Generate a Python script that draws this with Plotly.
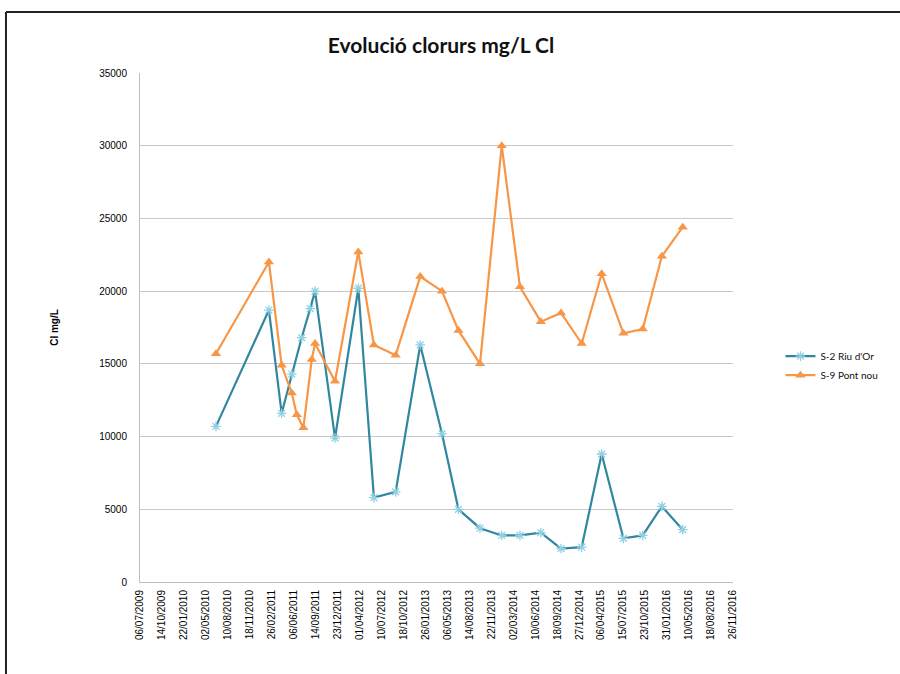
import datetime as dt
import plotly.graph_objects as go

# Sampling dates and chloride concentrations (mg/L Cl)
riu_dates = [
    "2010-06-17", "2011-02-13", "2011-04-12", "2011-05-28", "2011-07-12",
    "2011-08-20", "2011-09-11", "2011-12-11", "2012-03-26", "2012-06-05",
    "2012-09-12", "2013-01-02", "2013-04-11", "2013-06-25", "2013-10-01",
    "2014-01-08", "2014-04-01", "2014-07-05", "2014-10-05", "2015-01-07",
    "2015-04-08", "2015-07-16", "2015-10-12", "2016-01-07", "2016-04-11",
]
riu_values = [
    10700, 18700, 11600, 14300, 16800,
    18800, 20000, 9900, 20200, 5800,
    6200, 16300, 10200, 5000, 3700,
    3200, 3200, 3400, 2300, 2400,
    8800, 3000, 3200, 5200, 3600,
]

pont_dates = [
    "2010-06-17", "2011-02-13", "2011-04-12", "2011-05-28", "2011-06-20",
    "2011-07-20", "2011-08-27", "2011-09-11", "2011-12-11", "2012-03-26",
    "2012-06-05", "2012-09-12", "2013-01-02", "2013-04-11", "2013-06-25",
    "2013-10-01", "2014-01-08", "2014-04-01", "2014-07-05", "2014-10-05",
    "2015-01-07", "2015-04-08", "2015-07-16", "2015-10-12", "2016-01-07",
    "2016-04-11",
]
pont_values = [
    15700, 22000, 14900, 13000, 11500,
    10600, 15300, 16400, 13800, 22700,
    16300, 15600, 21000, 20000, 17300,
    15000, 30000, 20300, 17900, 18500,
    16400, 21200, 17100, 17400, 22400,
    24400,
]

series_names = ["S-2 Riu d'Or", "S-9 Pont nou"]

# Date axis: one tick every 100 days
axis_start = dt.date(2009, 7, 6)
axis_end = dt.date(2016, 11, 26)
tick_dates = []
d = axis_start
while d <= axis_end:
    tick_dates.append(d)
    d += dt.timedelta(days=100)
tick_vals = [t.isoformat() for t in tick_dates]
tick_text = [t.strftime("%d/%m/%Y") for t in tick_dates]

fig = go.Figure()
fig.add_trace(go.Scatter(
    x=riu_dates, y=riu_values, name=series_names[0], mode="lines+markers",
    line=dict(color="#31879f", width=2.2),
    marker=dict(symbol="asterisk-open", size=8,
                line=dict(color="#8fd0e2", width=1.3), color="#8fd0e2"),
))
fig.add_trace(go.Scatter(
    x=pont_dates, y=pont_values, name=series_names[1], mode="lines+markers",
    line=dict(color="#f79646", width=2.2),
    marker=dict(symbol="triangle-up", size=9, color="#f79646"),
))

# Left and top frame lines around the chart
fig.add_shape(type="line", xref="paper", yref="paper",
              x0=-0.226, x1=-0.226, y0=1.12, y1=-0.3,
              line=dict(color="#222222", width=2))
fig.add_shape(type="line", xref="paper", yref="paper",
              x0=-0.226, x1=1.35, y0=1.12, y1=1.12,
              line=dict(color="#222222", width=2))

fig.update_layout(
    width=900, height=674,
    margin=dict(l=140, r=167, t=73, b=92),
    paper_bgcolor="white", plot_bgcolor="white",
    title=dict(text="<b>Evolució clorurs mg/L Cl</b>", x=0.49, xanchor="center",
               y=0.933, yanchor="middle",
               font=dict(family="Lato", size=21, color="#111111")),
    font=dict(family="Liberation Sans", color="#111111"),
    showlegend=True,
    legend=dict(x=1.08, y=0.425, xanchor="left", yanchor="middle",
                font=dict(family="Liberation Sans Narrow, Lato", size=10, color="#111111"),
                bgcolor="rgba(0,0,0,0)", tracegroupgap=4),
    xaxis=dict(
        type="date",
        range=[axis_start.isoformat(), axis_end.isoformat()],
        tickmode="array", tickvals=tick_vals, ticktext=tick_text,
        tickangle=-90, tickfont=dict(size=10, family="Liberation Sans", color="#000000"),
        showgrid=False, showline=True, linecolor="#bfbfbf", linewidth=1,
        ticks="", zeroline=False, ticklabelstandoff=3,
    ),
    yaxis=dict(
        range=[0, 35000], dtick=5000, tickformat="d",
        tickfont=dict(size=10, family="Liberation Sans", color="#000000"),
        showgrid=True, gridcolor="#c8c8c8", gridwidth=1,
        showline=True, linecolor="#bfbfbf", linewidth=1,
        ticks="", zeroline=False, ticklabelstandoff=10,
        title=dict(text="<b>Cl mg/L</b>", standoff=38,
                   font=dict(size=10, family="Liberation Sans", color="#000000")),
    ),
)

fig.write_html("out.html")
